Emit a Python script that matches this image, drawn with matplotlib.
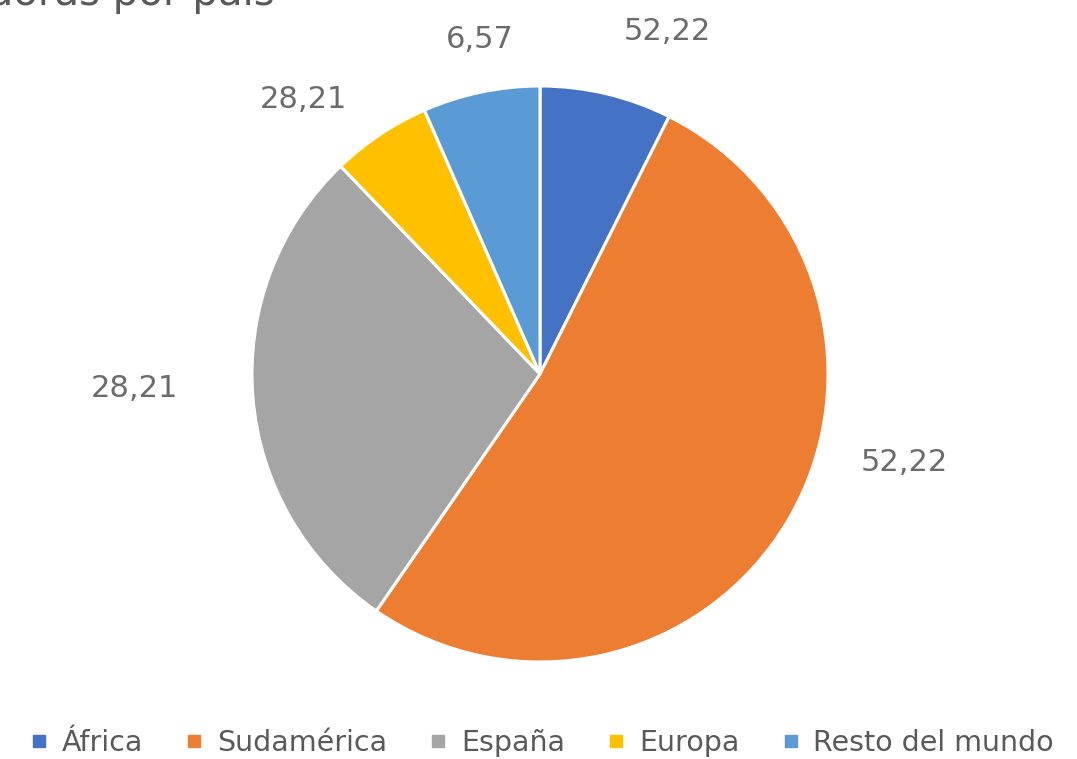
import numpy as np
import matplotlib
matplotlib.use("Agg")
import matplotlib.pyplot as plt
from matplotlib.lines import Line2D

regiones = ["África", "Sudamérica", "España", "Europa", "Resto del mundo"]
valores = [7.4, 52.22, 28.21, 5.6, 6.57]
etiquetas = ["52,22", "52,22", "28,21", "28,21", "6,57"]
colores = ["#4472C4", "#ED7D31", "#A5A5A5", "#FFC000", "#5B9BD5"]
titulo = "Compradoras por país"

plt.rcParams["font.family"] = ["DejaVu Sans"]

fig = plt.figure(figsize=(10.77, 7.59), dpi=100)
W, H = 1077, 759
cx, cy, r = 540, 374, 288
L = 1.6
side = 2 * L * r
ax = fig.add_axes([(cx - side / 2) / W, (H - cy - side / 2) / H, side / W, side / H])

wedges, _ = ax.pie(valores, colors=colores, startangle=90, counterclock=False,
                   wedgeprops=dict(edgecolor="white", linewidth=2.2))
ax.set_xlim(-L, L)
ax.set_ylim(-L, L)
ax.set_aspect("equal")
ax.axis("off")

# label placement per slice: distance (radius units) and angle shift (deg)
dist = [1.27, 1.30, 1.41, 1.26, 1.18]
shift = [-7, 17, -2.6, 7, -1.7]
for w, txt, d, s in zip(wedges, etiquetas, dist, shift):
    ang = np.deg2rad((w.theta1 + w.theta2) / 2 + s)
    ax.text(d * np.cos(ang), d * np.sin(ang), txt, ha="center", va="center",
            fontsize=22, color="#6b6b6b")

# title is cropped at the top edge in the reference
fig.text(275 / W, 1 - 5 / H, titulo, ha="right", va="baseline",
         fontsize=29, color="#595959")

handles = [Line2D([], [], marker="s", linestyle="", markersize=8,
                  markerfacecolor=c, markeredgecolor=c) for c in colores]
fig.legend(handles, regiones, loc="center", bbox_to_anchor=(0.502, 16 / H),
           ncol=5, frameon=False, fontsize=20.5, labelcolor="#595959",
           handlelength=0.8, handletextpad=0.4, columnspacing=1.4)

fig.savefig("out.png", dpi=100)
